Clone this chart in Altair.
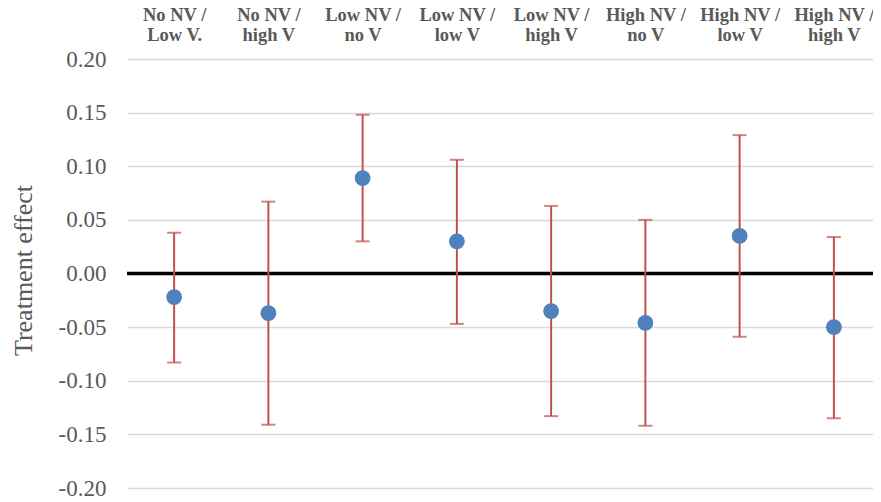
import altair as alt
import pandas as pd

categories = [
    "No NV /\nLow V.", "No NV /\nhigh V", "Low NV /\nno V", "Low NV /\nlow V",
    "Low NV /\nhigh V", "High NV /\nno V", "High NV /\nlow V", "High NV /\nhigh V",
]
effect = [-0.022, -0.037, 0.089, 0.030, -0.035, -0.046, 0.035, -0.050]
lower = [-0.083, -0.141, 0.030, -0.047, -0.133, -0.142, -0.059, -0.135]
upper = [0.038, 0.067, 0.148, 0.106, 0.063, 0.050, 0.129, 0.034]
y_ticks = [-0.20, -0.15, -0.10, -0.05, 0.00, 0.05, 0.10, 0.15, 0.20]

df = pd.DataFrame({"cat": categories, "eff": effect, "lo": lower, "hi": upper})

FONT = "Liberation Serif"
GREY = "#595959"

xaxis = alt.Axis(
    orient="top", title=None, labelAngle=0, domain=False, ticks=False,
    tickSize=0, grid=False, labelPadding=35, labelFont=FONT,
    labelFontSize=18.5, labelFontWeight="bold", labelColor=GREY,
    labelLineHeight=20.5, labelExpr="split(datum.label, '\\n')",
)
xscale = alt.Scale(type="point", padding=0.5)
yscale = alt.Scale(domain=[-0.2, 0.2], nice=False, zero=False)
yaxis = alt.Axis(
    values=y_ticks, title="Treatment effect",
    labelExpr="replace(format(datum.value, '.2f'), '\u2212', '-')",
    domain=False, ticks=False, tickSize=0, labelPadding=21,
    labelFont=FONT, labelFontSize=23, labelColor=GREY,
    titleFont=FONT, titleFontSize=26, titleFontWeight="normal",
    titleColor=GREY, titleX=-91, titleY=211,
    grid=True, gridColor="#d9d9d9", gridWidth=1.5,
)


def X():
    return alt.X("cat:N", sort=categories, scale=xscale, axis=xaxis)


def Y(field):
    return alt.Y(field, scale=yscale, axis=yaxis, title="Treatment effect")


base = alt.Chart(df)

zero = alt.Chart(pd.DataFrame({"z": [0.0]})).mark_rule(
    color="black", strokeWidth=3.5
).encode(y=Y("z:Q"))

bars = base.mark_rule(color="#c0504d", strokeWidth=2).encode(
    x=X(), y=Y("lo:Q"), y2="hi:Q",
)

caps = base.transform_fold(["lo", "hi"], as_=["k", "v"]).mark_tick(
    color="#c0504d", orient="horizontal", thickness=2, size=14
).encode(x=X(), y=Y("v:Q"))

pts = base.mark_circle(color="#4f81bd", size=250, opacity=1).encode(
    x=X(), y=Y("eff:Q")
)

chart = alt.layer(zero, bars, caps, pts).properties(
    width=754, height=429,
    padding={"left": 119, "top": 51, "right": -8, "bottom": 12},
    autosize=alt.AutoSizeParams(type="none"),
).configure_view(stroke=None)

chart.save("out.html", embed_options={"renderer": "svg", "actions": False})
